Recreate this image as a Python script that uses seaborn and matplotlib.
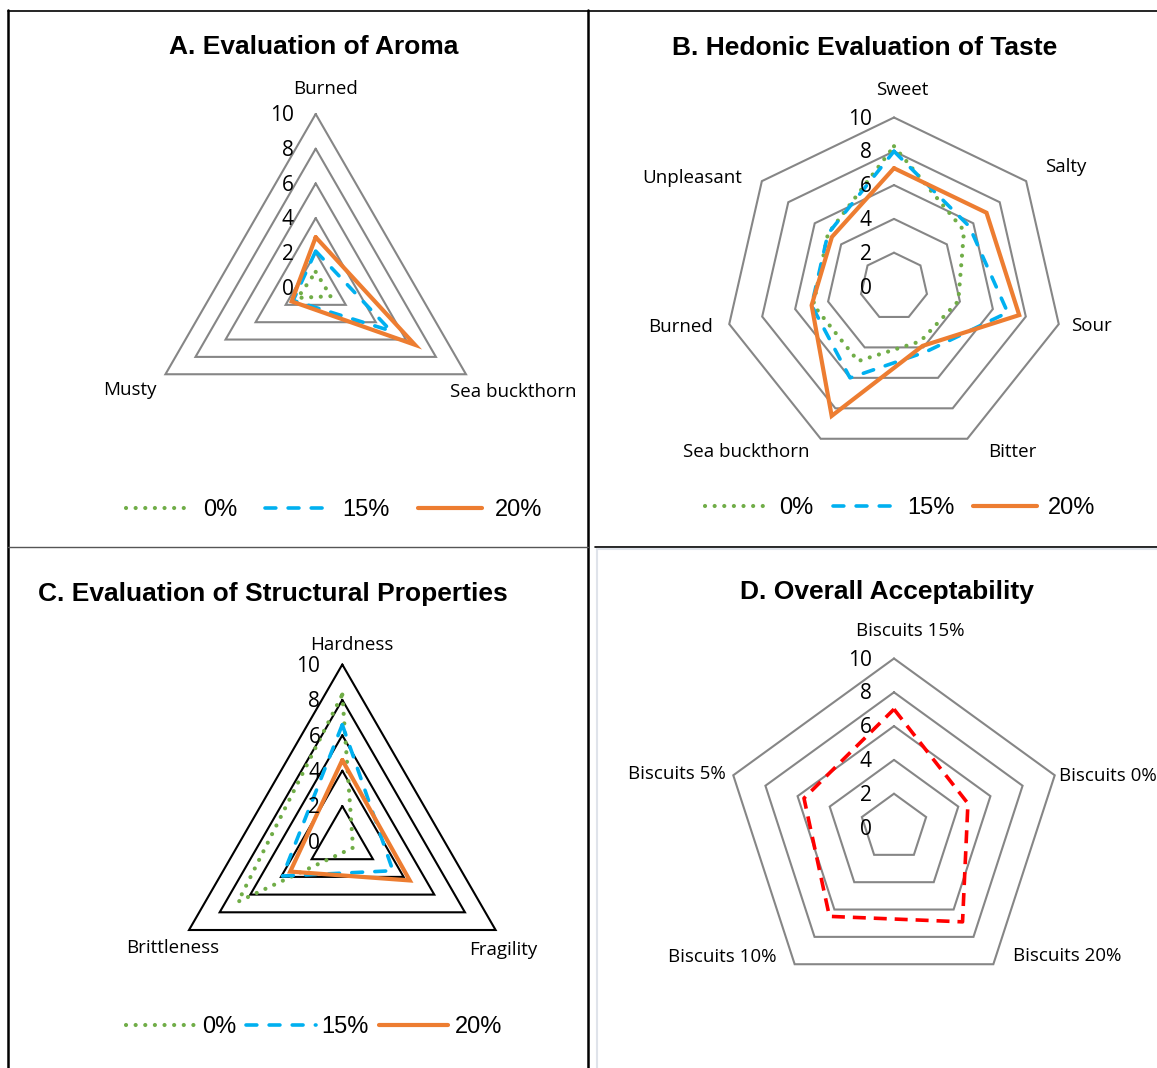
import numpy as np
import pandas as pd
import matplotlib
matplotlib.use("Agg")
import matplotlib.pyplot as plt
from matplotlib.lines import Line2D
import seaborn as sns

# --- Daten ---
levels = [0, 2, 4, 6, 8, 10]

aroma_cats = ["Burned", "Sea buckthorn", "Musty"]
aroma_0 = [0.9, 1.0, 1.2]
aroma_15 = [2.1, 5.0, 1.5]
aroma_20 = [2.9, 6.6, 1.6]

taste_cats = ["Sweet", "Salty", "Sour", "Bitter", "Sea buckthorn", "Burned", "Unpleasant"]
taste_0 = [8.3, 5.3, 3.9, 3.6, 4.9, 4.9, 5.0]
taste_15 = [8.0, 5.7, 6.9, 4.3, 6.0, 5.0, 5.0]
taste_20 = [7.0, 7.0, 7.6, 3.9, 8.5, 5.0, 4.7]

struct_cats = ["Hardness", "Fragility", "Brittleness"]
struct_0 = [8.3, 0.7, 6.8]
struct_15 = [6.6, 3.3, 3.9]
struct_20 = [4.6, 4.4, 3.4]

accept_cats = ["Biscuits 15%", "Biscuits 0%", "Biscuits 20%", "Biscuits 10%", "Biscuits 5%"]
accept_vals = [7.0, 4.6, 6.9, 6.5, 5.6]

series_labels = ["0%", "15%", "20%"]

# --- Stil ---
W, H = 1157, 1068
sns.set_style("white")
plt.rcParams["font.family"] = ["Open Sans", "DejaVu Sans"]
plt.rcParams["text.color"] = "black"

GREEN, BLUE, ORANGE, RED = "#70AD47", "#00B0F0", "#ED7D31", "#FF0000"
styles = [
    dict(color=GREEN, lw=3.0, linestyle=(0, (0.01, 2.3)), dash_capstyle="round"),
    dict(color=BLUE, lw=2.6, linestyle=(0, (3.0, 3.4)), dash_capstyle="round"),
    dict(color=ORANGE, lw=3.0, linestyle="-", solid_joinstyle="miter"),
]

fig = plt.figure(figsize=(W / 100, H / 100), dpi=100)


def radar_xy(values):
    v = np.asarray(values, float)
    ang = np.arange(len(v)) * 2 * np.pi / len(v)
    x, y = v * np.sin(ang), v * np.cos(ang)
    return np.append(x, x[0]), np.append(y, y[0])


def make_panel(cx, cy, k, n, grid_color):
    half = 12
    ax = fig.add_axes([(cx - half * k) / W, 1 - (cy + half * k) / H,
                       2 * half * k / W, 2 * half * k / H])
    ax.set_xlim(-half, half)
    ax.set_ylim(-half, half)
    for lev in levels[1:]:
        gx, gy = radar_xy([lev] * n)
        ax.plot(gx, gy, color=grid_color, lw=1.5, zorder=1, solid_joinstyle="miter")
    for lev in levels:
        ax.text(-22 / k, lev - 0.1, str(lev), ha="right", va="center", fontsize=15,
                color="black", zorder=5)
    return ax


def draw_series(ax, values, st):
    x, y = radar_xy(values)
    df = pd.DataFrame({"x": x, "y": y})
    sns.lineplot(data=df, x="x", y="y", sort=False, estimator=None, ax=ax,
                 legend=False, zorder=3, **st)
    ax.set_axis_off()
    return ax.lines[-1]


def put_labels(cats, pos):
    for c, (px, py) in zip(cats, pos):
        fig.text(px / W, 1 - py / H, c, ha="center", va="center", fontsize=13.5,
                 color="black")


def title(txt, px, py):
    fig.text(px / W, 1 - py / H, txt, ha="center", va="center", fontsize=19,
             fontweight="bold", family="Liberation Sans", color="black")


def legend(handles, px, py, hl, pad, col):
    fig.legend(handles, series_labels, loc="center", bbox_to_anchor=(px / W, 1 - py / H),
               ncol=3, frameon=False, handlelength=hl, handletextpad=pad,
               columnspacing=col, labelcolor="black",
               prop={"family": "Liberation Sans", "size": 17})


# --- A ---
axA = make_panel(315.7, 287.5, 17.35, 3, "#868686")
hA = [draw_series(axA, v, s) for v, s in zip([aroma_0, aroma_15, aroma_20], styles)]
put_labels(aroma_cats, [(326, 89), (513, 392), (130, 390)])
title("A. Evaluation of Aroma", 314, 47)
legend(hA, 334, 510, 2.7, 0.55, 1.2)

# --- B ---
axB = make_panel(894, 286.5, 16.9, 7, "#868686")
hB = [draw_series(axB, v, s) for v, s in zip([taste_0, taste_15, taste_20], styles)]
put_labels(taste_cats, [(902, 90), (1066, 167), (1091, 326), (1012, 452),
                        (746, 452), (681, 327), (692, 178)])
title("B. Hedonic Evaluation of Taste", 865, 48)
legend(hB, 900, 508, 2.7, 0.45, 0.8)

# --- C ---
axC = make_panel(342.3, 841.5, 17.7, 3, "black")
hC = [draw_series(axC, v, s) for v, s in zip([struct_0, struct_15, struct_20], styles)]
put_labels(struct_cats, [(352, 645), (503, 950), (173, 948)])
title("C. Evaluation of Structural Properties", 273, 594)
legend(hC, 314, 1027, 2.95, 0.25, 0.42)

# --- D ---
axD = make_panel(894, 827.5, 16.9, 5, "#868686")
draw_series(axD, accept_vals, dict(color=RED, lw=2.6, linestyle=(0, (3.6, 2.2)),
                                   dash_capstyle="butt", solid_joinstyle="miter"))
put_labels(accept_cats, [(910, 631), (1108, 776), (1067, 956), (722, 957), (677, 774)])
title("D. Overall Acceptability", 887, 592)

# --- Rahmen ---
def frame(x0, y0, x1, y1, color="black", lw=1.5):
    fig.add_artist(Line2D([x0 / W, x1 / W], [1 - y0 / H, 1 - y1 / H],
                          transform=fig.transFigure, color=color, lw=lw))

frame(8, 10.5, W, 10.5, lw=1.2)
frame(8, 10, 8, H, lw=1.8)
frame(588, 10, 588, H, lw=1.8)
frame(8, 547, 588, 547, color="#555555", lw=1.0)
frame(595, 547, W, 547, lw=1.2)
frame(597, 549, 597, H, color="#dfe3ea", lw=1.5)
frame(597, 549, W, 549, color="#dfe3ea", lw=1.5)

fig.savefig("out.png", dpi=100)
